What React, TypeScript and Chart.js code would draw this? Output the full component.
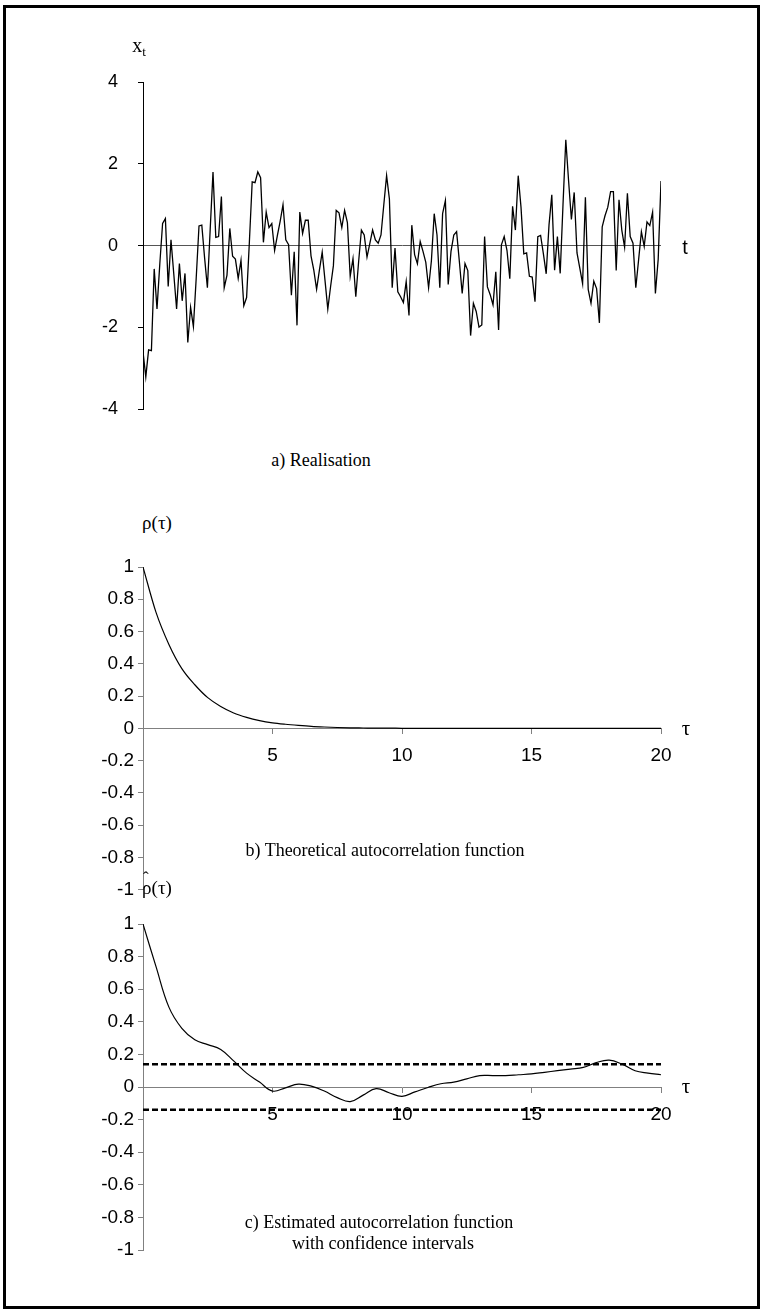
import React, { useEffect, useRef } from "react";
import { Chart, registerables } from "chart.js";

Chart.register(...registerables);

// ---- Data ----
// a) Realisation x_t (one value per time step)
const realisation: number[] = [
  -2.6, -3.21, -2.55, -2.57, -0.57, -1.55, -0.45, 0.54, 0.66, -1.0,
  0.14, -0.7, -1.55, -0.44, -1.35, -0.68, -2.37, -1.51, -1.98, -0.8,
  0.48, 0.5, -0.3, -1.03, 0.4, 1.8, 0.2, 0.22, 1.2, -1.03,
  -0.72, 0.42, -0.26, -0.33, -0.8, -0.36, -1.47, -1.27, 0.1, 1.56,
  1.54, 1.8, 1.66, 0.08, 0.82, 0.44, 0.54, -0.12, 0.25, 0.6,
  1.0, 0.14, 0.02, -1.21, -0.15, -1.95, 0.82, 0.3, 0.62, 0.62,
  -0.25, -0.6, -1.07, -0.6, -0.16, -0.85, -1.55, -1.0, -0.49, 0.86,
  0.8, 0.44, 0.86, 0.56, -0.75, -0.32, -1.25, -0.4, 0.38, 0.26,
  -0.28, 0.05, 0.38, 0.14, 0.06, 0.26, 1.0, 1.71, 1.14, -1.03,
  -0.06, -1.13, -1.25, -1.39, -0.88, -1.71, 0.5, -0.22, -0.44, 0.1,
  -0.14, -0.41, -1.03, -0.37, 0.78, 0.26, -1.03, 0.78, 1.1, -0.95,
  -0.14, 0.26, 0.34, -0.4, -1.17, -0.44, -0.61, -2.2, -1.41, -1.61,
  -1.99, -1.94, 0.22, -1.01, -1.2, -1.45, -0.64, -2.06, 0.02, 0.22,
  -0.12, -0.81, 0.96, 0.38, 1.71, 0.94, -0.2, -0.18, -0.75, -0.77,
  -1.37, 0.22, 0.25, -0.2, -0.69, 0.5, 1.24, -0.6, 0.22, -0.68,
  1.0, 2.59, 1.58, 0.64, 1.3, -0.18, -0.55, -0.93, 1.18, -1.07,
  -1.41, -0.87, -1.05, -1.89, 0.46, 0.73, 0.94, 1.32, 1.32, -0.61,
  1.12, 0.38, -0.04, 1.28, 0.22, 0.06, -1.03, -0.35, 0.34, -0.02,
  0.58, 0.49, 0.82, -1.17, -0.33, 1.58,
];
const realisationYTicks = [-4, -2, 0, 2, 4];

// b) Theoretical ACF, lags 0, 0.5, 1, ... 20
const theoreticalAcf: number[] = [
  1.0, 0.72, 0.52, 0.37, 0.27, 0.19, 0.135, 0.095, 0.068, 0.048,
  0.034, 0.025, 0.018, 0.012, 0.008, 0.005, 0.003, 0.002, 0.001, 0.001,
  0, 0, 0, 0, 0, 0, 0, 0, 0, 0,
  0, 0, 0, 0, 0, 0, 0, 0, 0, 0,
  0,
];

// c) Estimated ACF, lags 0, 0.5, 1, ... 20
const estimatedAcf: number[] = [
  1.0, 0.74, 0.49, 0.36, 0.29, 0.26, 0.23, 0.16, 0.085, 0.03,
  -0.025, -0.005, 0.018, 0.005, -0.025, -0.065, -0.09, -0.05, -0.01, -0.035,
  -0.057, -0.03, -0.003, 0.02, 0.03, 0.05, 0.07, 0.07, 0.07, 0.075,
  0.08, 0.09, 0.1, 0.11, 0.12, 0.15, 0.165, 0.14, 0.1, 0.085,
  0.075,
];
const confidenceBound = 0.14;

const lagStep = 0.5;
const acfXTicks = [5, 10, 15, 20];
const acfYTicks = [-1, -0.8, -0.6, -0.4, -0.2, 0, 0.2, 0.4, 0.6, 0.8, 1];

// ---- Styling ----
const W = 763;
const SANS = "'Liberation Sans', Arial, sans-serif";
const SERIF = "'Liberation Serif', 'Times New Roman', serif";
const tickFontA = { family: SANS, size: 18 };
const tickFontAcf = { family: SANS, size: 19 };
const AXIS_GRAY = "#808080";

function ChartCanvas({ top, height, build }: { top: number; height: number; build: () => any }) {
  const ref = useRef<HTMLCanvasElement>(null);
  useEffect(() => {
    const chart = new Chart(ref.current as HTMLCanvasElement, build());
    return () => chart.destroy();
  }, []);
  return (
    <div style={{ position: "absolute", left: 0, top, width: W, height }}>
      <canvas ref={ref} width={W} height={height} style={{ display: "block" }} />
    </div>
  );
}

function Label({ x, y, children, font = SERIF, size = 18 }: any) {
  return (
    <div
      style={{
        position: "absolute",
        left: x,
        top: y,
        transform: "translate(-50%, -50%)",
        fontFamily: font,
        fontSize: size,
        lineHeight: 1,
        whiteSpace: "nowrap",
        color: "#000",
      }}
    >
      {children}
    </div>
  );
}

const baseOptions = (padding: any) => ({
  responsive: false,
  animation: false as const,
  devicePixelRatio: 1,
  layout: { padding },
  plugins: { legend: { display: false }, tooltip: { enabled: false }, title: { display: false } },
});

function buildRealisation() {
  return {
    type: "line",
    data: {
      datasets: [
        {
          data: realisation.map((v, i) => ({ x: i, y: v })),
          borderColor: "#000",
          borderWidth: 1.3,
          pointRadius: 0,
          tension: 0,
          fill: false,
        },
      ],
    },
    options: {
      ...baseOptions({ left: 0, right: 102, top: 42, bottom: 27 }),
      scales: {
        x: { type: "linear", min: 0, max: realisation.length - 1, display: false },
        y: {
          type: "linear",
          min: -4,
          max: 4,
          afterFit: (s: any) => {
            s.width = 143;
          },
          afterBuildTicks: (s: any) => {
            s.ticks = realisationYTicks.map((v) => ({ value: v }));
          },
          ticks: { padding: 20, color: "#000", font: tickFontA, callback: (v: any) => String(v) },
          grid: {
            drawTicks: true,
            tickLength: 5,
            tickColor: "#000",
            lineWidth: 1,
            color: (c: any) => (c.tick && c.tick.value === 0 ? "#555" : "rgba(0,0,0,0)"),
          },
          border: { display: true, color: "#000", width: 1 },
        },
      },
    },
  };
}

function acfScales() {
  return {
    x: {
      type: "linear",
      min: 0,
      max: 20,
      position: { y: 0 },
      z: 1,
      afterBuildTicks: (s: any) => {
        s.ticks = acfXTicks.map((v) => ({ value: v }));
      },
      ticks: {
        padding: 11,
        color: "#000",
        font: tickFontAcf,
        maxRotation: 0,
        autoSkip: false,
        showLabelBackdrop: true,
        backdropColor: "#fff",
        backdropPadding: { left: 1, right: 1, top: 0, bottom: 0 },
        callback: (v: any) => String(v),
      },
      grid: { drawOnChartArea: false, drawTicks: true, tickLength: 5, tickColor: AXIS_GRAY },
      border: { display: true, color: AXIS_GRAY, width: 1 },
    },
    y: {
      type: "linear",
      min: -1,
      max: 1,
      afterFit: (s: any) => {
        s.width = 143;
      },
      afterBuildTicks: (s: any) => {
        s.ticks = acfYTicks.map((v) => ({ value: v }));
      },
      ticks: { padding: 4, color: "#000", font: tickFontAcf, callback: (v: any) => String(v) },
      grid: { drawOnChartArea: false, drawTicks: true, tickLength: 5, tickColor: AXIS_GRAY },
      border: { display: true, color: AXIS_GRAY, width: 1 },
    },
  };
}

function buildTheoretical() {
  return {
    type: "line",
    data: {
      datasets: [
        {
          data: theoreticalAcf.map((v, i) => ({ x: i * lagStep, y: v })),
          borderColor: "#000",
          borderWidth: 1.2,
          pointRadius: 0,
          cubicInterpolationMode: "monotone",
          fill: false,
        },
      ],
    },
    options: {
      ...baseOptions({ left: 0, right: 102, top: 27, bottom: 14 }),
      scales: acfScales(),
    },
  };
}

function buildEstimated() {
  const band = (v: number) => ({
    data: [
      { x: 0, y: v },
      { x: 20, y: v },
    ],
    borderColor: "#000",
    borderWidth: 2.6,
    borderDash: [6, 3],
    pointRadius: 0,
    fill: false,
  });
  return {
    type: "line",
    data: {
      datasets: [
        {
          data: estimatedAcf.map((v, i) => ({ x: i * lagStep, y: v })),
          borderColor: "#000",
          borderWidth: 1.2,
          pointRadius: 0,
          tension: 0.4,
          fill: false,
        },
        band(confidenceBound),
        band(-confidenceBound),
      ],
    },
    options: {
      ...baseOptions({ left: 0, right: 102, top: 16, bottom: 20 }),
      scales: acfScales(),
    },
  };
}

export default function App() {
  return (
    <div style={{ position: "absolute", left: 0, top: 0, width: W, height: 1312, background: "#fff", overflow: "hidden" }}>
      <div
        style={{
          position: "absolute",
          left: 3,
          top: 5,
          width: 757,
          height: 1304,
          border: "3px solid #000",
          boxSizing: "border-box",
        }}
      />
      <ChartCanvas top={40} height={400} build={buildRealisation} />
      <ChartCanvas top={540} height={365} build={buildTheoretical} />
      <ChartCanvas top={908} height={362} build={buildEstimated} />

      <Label x={139} y={46} size={20}>
        x<sub style={{ fontSize: 13, verticalAlign: "-4px" }}>t</sub>
      </Label>
      <Label x={685} y={247} font={SANS} size={20}>t</Label>
      <Label x={321} y={460}>a) Realisation</Label>

      <Label x={157} y={522} size={19}>ρ(τ)</Label>
      <Label x={686} y={728} size={21}>τ</Label>
      <Label x={385} y={850}>b) Theoretical autocorrelation function</Label>

      <Label x={157} y={887} size={19}>
        <span style={{ position: "relative", display: "inline-block" }}>
          ρ
          <span style={{ position: "absolute", left: 1, top: -9, fontSize: 17 }}>ˆ</span>
        </span>
        (τ)
      </Label>
      <Label x={686} y={1086} size={21}>τ</Label>
      <Label x={379} y={1222}>c) Estimated autocorrelation function</Label>
      <Label x={383} y={1243}>with confidence intervals</Label>
    </div>
  );
}
